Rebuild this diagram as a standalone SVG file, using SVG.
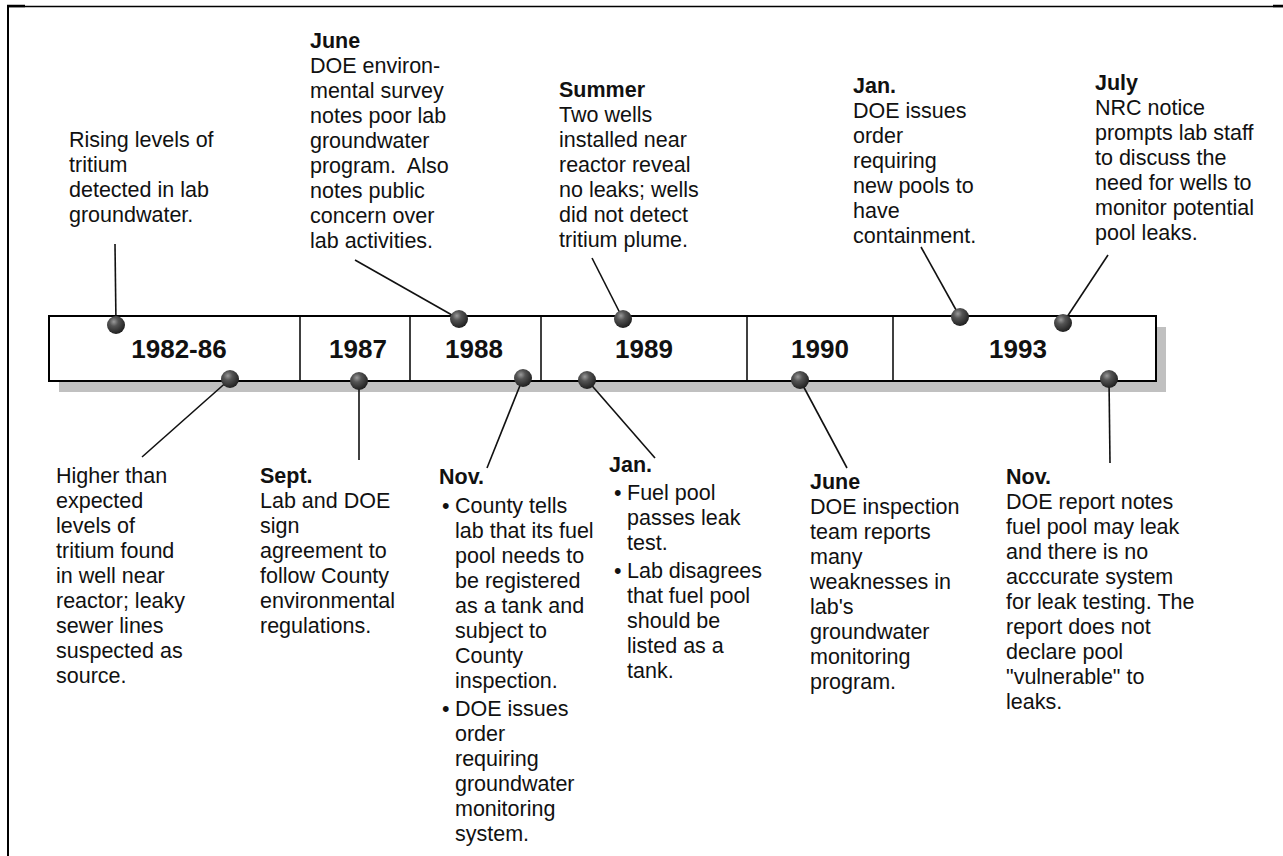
<svg xmlns="http://www.w3.org/2000/svg" width="1283" height="856" viewBox="0 0 1283 856">
<defs>
<radialGradient id="ball" cx="0.38" cy="0.32" r="0.7">
<stop offset="0" stop-color="#9a9a9a"/>
<stop offset="0.35" stop-color="#555"/>
<stop offset="1" stop-color="#1e1e1e"/>
</radialGradient>
<style>
text{font-family:"Liberation Sans",Arial,sans-serif;font-size:21.5px;fill:#111}
.b{font-weight:bold}
.yr{font-weight:bold;font-size:26px;text-anchor:middle}
.ln{stroke:#111;stroke-width:1.6;fill:none}
.pin{fill:url(#ball)}
</style>
</defs>
<rect width="1283" height="856" fill="#fff"/>
<g id="frame" stroke="#000" fill="none">
<line x1="7" y1="6.5" x2="1283" y2="6.5" stroke-width="1.6"/>
<line x1="7" y1="6" x2="25" y2="6" stroke-width="2.5"/>
<line x1="1273" y1="6" x2="1283" y2="6" stroke-width="2.5"/>
<line x1="8" y1="5.5" x2="8" y2="856" stroke-width="2"/>
</g>
<g id="timeline">
<rect x="59" y="327" width="1107" height="65" fill="#c0c0c0"/>
<rect x="49" y="316" width="1107" height="65" fill="#fff" stroke="#000" stroke-width="2"/>
<g stroke="#000" stroke-width="1.5">
<line x1="300" y1="316" x2="300" y2="381"/>
<line x1="410" y1="316" x2="410" y2="381"/>
<line x1="541" y1="316" x2="541" y2="381"/>
<line x1="747" y1="316" x2="747" y2="381"/>
<line x1="893" y1="316" x2="893" y2="381"/>
</g>
<text class="yr" x="179" y="358">1982-86</text>
<text class="yr" x="358" y="358">1987</text>
<text class="yr" x="474" y="358">1988</text>
<text class="yr" x="644" y="358">1989</text>
<text class="yr" x="820" y="358">1990</text>
<text class="yr" x="1018" y="358">1993</text>
</g>
<g id="connectors">
<line class="ln" x1="115" y1="244" x2="116" y2="325"/>
<line class="ln" x1="355" y1="260" x2="459" y2="319"/>
<line class="ln" x1="592" y1="258" x2="623" y2="319"/>
<line class="ln" x1="921" y1="247" x2="960" y2="317"/>
<line class="ln" x1="1108" y1="255" x2="1063" y2="323"/>
<line class="ln" x1="230" y1="379" x2="142" y2="457"/>
<line class="ln" x1="359" y1="381" x2="359" y2="460"/>
<line class="ln" x1="523" y1="378" x2="487" y2="468"/>
<line class="ln" x1="587" y1="380" x2="655" y2="458"/>
<line class="ln" x1="800" y1="380" x2="847" y2="468"/>
<line class="ln" x1="1109" y1="379" x2="1110" y2="463"/>
</g>
<g id="pins">
<circle class="pin" cx="116" cy="325" r="9"/>
<circle class="pin" cx="459" cy="319" r="9"/>
<circle class="pin" cx="623" cy="319" r="9"/>
<circle class="pin" cx="960" cy="317" r="9"/>
<circle class="pin" cx="1063" cy="323" r="9"/>
<circle class="pin" cx="230" cy="379" r="9"/>
<circle class="pin" cx="359" cy="381" r="9"/>
<circle class="pin" cx="523" cy="378" r="9"/>
<circle class="pin" cx="587" cy="380" r="9"/>
<circle class="pin" cx="800" cy="380" r="9"/>
<circle class="pin" cx="1109" cy="379" r="9"/>
</g>
<g id="ev-1982-rising">
<text x="69" y="147">Rising levels of</text>
<text x="69" y="172">tritium</text>
<text x="69" y="197">detected in lab</text>
<text x="69" y="222">groundwater.</text>
</g>
<g id="ev-1988-june">
<text class="b" x="310" y="48">June</text>
<text x="310" y="73">DOE environ-</text>
<text x="310" y="98">mental survey</text>
<text x="310" y="123">notes poor lab</text>
<text x="310" y="148">groundwater</text>
<text x="310" y="173" xml:space="preserve">program.  Also</text>
<text x="310" y="198">notes public</text>
<text x="310" y="223">concern over</text>
<text x="310" y="248">lab activities.</text>
</g>
<g id="ev-1989-summer">
<text class="b" x="559" y="97">Summer</text>
<text x="559" y="122">Two wells</text>
<text x="559" y="147">installed near</text>
<text x="559" y="172">reactor reveal</text>
<text x="559" y="197">no leaks; wells</text>
<text x="559" y="222">did not detect</text>
<text x="559" y="247">tritium plume.</text>
</g>
<g id="ev-1993-jan">
<text class="b" x="853" y="93">Jan.</text>
<text x="853" y="118">DOE issues</text>
<text x="853" y="143">order</text>
<text x="853" y="168">requiring</text>
<text x="853" y="193">new pools to</text>
<text x="853" y="218">have</text>
<text x="853" y="243">containment.</text>
</g>
<g id="ev-1993-july">
<text class="b" x="1095" y="90">July</text>
<text x="1095" y="115">NRC notice</text>
<text x="1095" y="140">prompts lab staff</text>
<text x="1095" y="165">to discuss the</text>
<text x="1095" y="190">need for wells to</text>
<text x="1095" y="215">monitor potential</text>
<text x="1095" y="240">pool leaks.</text>
</g>
<g id="ev-1982-higher">
<text x="56" y="483">Higher than</text>
<text x="56" y="508">expected</text>
<text x="56" y="533">levels of</text>
<text x="56" y="558">tritium found</text>
<text x="56" y="583">in well near</text>
<text x="56" y="608">reactor; leaky</text>
<text x="56" y="633">sewer lines</text>
<text x="56" y="658">suspected as</text>
<text x="56" y="683">source.</text>
</g>
<g id="ev-1987-sept">
<text class="b" x="260" y="483">Sept.</text>
<text x="260" y="508">Lab and DOE</text>
<text x="260" y="533">sign</text>
<text x="260" y="558">agreement to</text>
<text x="260" y="583">follow County</text>
<text x="260" y="608">environmental</text>
<text x="260" y="633">regulations.</text>
</g>
<g id="ev-1988-nov">
<text class="b" x="439" y="484">Nov.</text>
<text x="442" y="513">•</text>
<text x="455" y="513">County tells</text>
<text x="455" y="538">lab that its fuel</text>
<text x="455" y="563">pool needs to</text>
<text x="455" y="588">be registered</text>
<text x="455" y="613">as a tank and</text>
<text x="455" y="638">subject to</text>
<text x="455" y="663">County</text>
<text x="455" y="688">inspection.</text>
<text x="442" y="716">•</text>
<text x="455" y="716">DOE issues</text>
<text x="455" y="741">order</text>
<text x="455" y="766">requiring</text>
<text x="455" y="791">groundwater</text>
<text x="455" y="816">monitoring</text>
<text x="455" y="841">system.</text>
</g>
<g id="ev-1989-jan">
<text class="b" x="609" y="472">Jan.</text>
<text x="614" y="500">•</text>
<text x="627" y="500">Fuel pool</text>
<text x="627" y="525">passes leak</text>
<text x="627" y="550">test.</text>
<text x="614" y="578">•</text>
<text x="627" y="578">Lab disagrees</text>
<text x="627" y="603">that fuel pool</text>
<text x="627" y="628">should be</text>
<text x="627" y="653">listed as a</text>
<text x="627" y="678">tank.</text>
</g>
<g id="ev-1990-june">
<text class="b" x="810" y="489">June</text>
<text x="810" y="514">DOE inspection</text>
<text x="810" y="539">team reports</text>
<text x="810" y="564">many</text>
<text x="810" y="589">weaknesses in</text>
<text x="810" y="614">lab's</text>
<text x="810" y="639">groundwater</text>
<text x="810" y="664">monitoring</text>
<text x="810" y="689">program.</text>
</g>
<g id="ev-1993-nov">
<text class="b" x="1006" y="484">Nov.</text>
<text x="1006" y="509">DOE report notes</text>
<text x="1006" y="534">fuel pool may leak</text>
<text x="1006" y="559">and there is no</text>
<text x="1006" y="584">acccurate system</text>
<text x="1006" y="609">for leak testing. The</text>
<text x="1006" y="634">report does not</text>
<text x="1006" y="659">declare pool</text>
<text x="1006" y="684">"vulnerable" to</text>
<text x="1006" y="709">leaks.</text>
</g>
</svg>
